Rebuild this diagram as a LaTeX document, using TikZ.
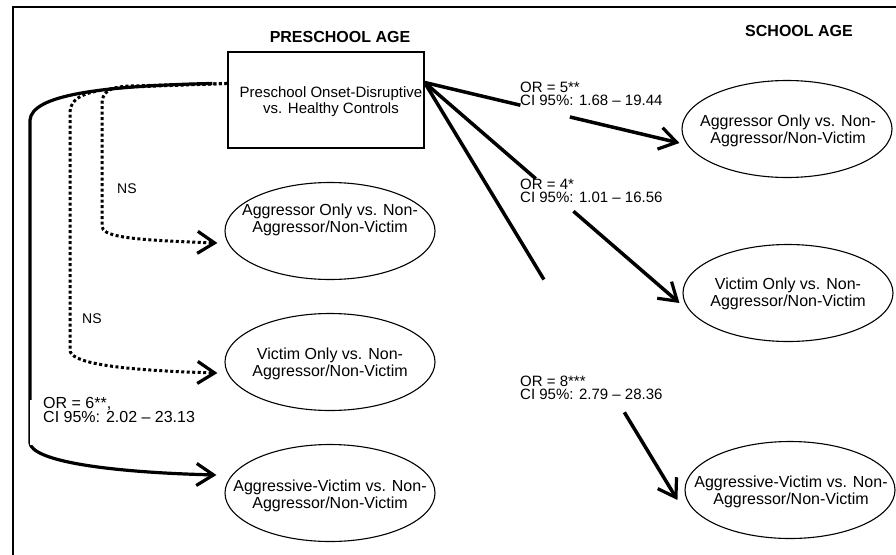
\documentclass[tikz,border=0pt]{standalone}
\usepackage{fontspec}
\setmainfont{Liberation Sans}
\usetikzlibrary{arrows.meta,shapes.geometric,calc}
\begin{document}
\begin{tikzpicture}[x=1pt,y=-1pt,
  ell/.style={draw, ellipse, line width=1.1pt, minimum width=210pt, minimum height=97pt, inner sep=0pt},
  elltext/.style={align=center, font=\fontsize{16}{16.5}\selectfont, inner sep=0pt},
  stat/.style={align=left, anchor=west, inner sep=0pt, font=\fontsize{15}{13}\selectfont},
  tip/.style={-{Straight Barb[length=17pt,width=22pt,line width=3.2pt]}},
  bigline/.style={line width=3.5pt},
  bigarrow/.style={line width=3.5pt, tip},
  dotline/.style={line width=3pt, dash pattern=on 3pt off 2.5pt, tip},
  title/.style={font=\bfseries\fontsize{16}{16}\selectfont, inner sep=0pt},
  nslabel/.style={anchor=west, inner sep=0pt, font=\fontsize{14}{14}\selectfont}
]
\useasboundingbox (0,0) rectangle (896,554);
% frame
\draw[line width=2.8pt, line join=miter] (13,560) -- (13,7) -- (900,7);

% titles
\node[title] (pre) at (340,37) {PRESCHOOL AGE};
\node[title] (sch) at (799,31) {SCHOOL AGE};

% source box
\node[draw, line width=1.1pt, minimum width=196pt, minimum height=96pt, inner sep=0pt] (box) at (326,100) {};
\node[align=center, inner sep=0pt, font=\fontsize{15}{16}\selectfont] (boxt) at (331,102)
      {Preschool Onset-Disruptive\\vs. Healthy Controls};

% preschool ellipses
\node[ell] (L1) at (330,231) {};
\node[elltext] (L1t) at (330,220) {Aggressor Only vs. Non-\\Aggressor/Non-Victim};
\node[ell] (L2) at (330,362) {};
\node[elltext] (L2t) at (330,364) {Victim Only vs. Non-\\Aggressor/Non-Victim};
\node[ell] (L3) at (330,493) {};
\node[elltext] (L3t) at (330,496) {Aggressive-Victim vs. Non-\\Aggressor/Non-Victim};

% school-age ellipses
\node[ell] (R1) at (787,129) {};
\node[elltext] (R1t) at (788,131) {Aggressor Only vs. Non-\\Aggressor/Non-Victim};
\node[ell] (R2) at (788,293) {};
\node[elltext] (R2t) at (788,294) {Victim Only vs. Non-\\Aggressor/Non-Victim};
\node[ell] (R3) at (790,490) {};
\node[elltext] (R3t) at (791,492) {Aggressive-Victim vs. Non-\\Aggressor/Non-Victim};

% coordinates
\coordinate (o) at ($(box.north east)+(0,31)$);
\coordinate (lo) at ($(box.north west)+(0,32)$);
\coordinate (ls) at ($(lo)+(-15,0)$);
\coordinate (t1) at ($(R1.west)+(-2,14)$);
\coordinate (t2) at ($(R2.west)+(-3,10)$);
\coordinate (t3) at ($(R3.west)+(-7,10)$);
\coordinate (a1) at ($(o)!0.376!(t1)$);
\coordinate (b1) at ($(o)!0.57!(t1)$);
\coordinate (a2) at ($(o)!0.436!(t2)$);
\coordinate (b2) at ($(o)!0.584!(t2)$);
\coordinate (a3) at ($(o)!0.472!(t3)$);
\coordinate (b3) at ($(o)!0.79!(t3)$);
\coordinate (tA) at ($(L1.west)+(-7,12)$);
\coordinate (tB) at ($(L2.west)+(-7,11)$);
\coordinate (tC) at ($(L3.west)+(-8,-18)$);

% right connectors
\draw[bigline] (o) -- (a1);
\draw[bigarrow] (b1) -- (t1);
\draw[bigline] (o) -- (a2);
\draw[bigarrow] (b2) -- (t2);
\draw[bigline] (o) -- (a3);
\draw[bigarrow] (b3) -- (t3);

% right labels
\node[stat] (s1) at (520,94) {OR = 5**\\CI 95\%: 1.68 – 19.44};
\node[stat] (s2) at (520,191) {OR = 4*\\CI 95\%: 1.01 – 16.56};
\node[stat] (s3) at (520,388) {OR = 8***\\CI 95\%: 2.79 – 28.36};

% left connectors
\draw[dotline] (lo) -- (130,86) .. controls (108,87) and (102,92) .. (102,105)
   -- (102,226) .. controls (102,236) and (125,240) .. (tA);
\draw[dotline] (lo) -- (130,87) .. controls (90,90) and (71,95) .. (70,112)
   -- (70,350) .. controls (70,362) and (110,370) .. (tB);
\draw[bigarrow, line width=3.2pt] (ls) .. controls (100,86) and (32,95) .. (30,120)
   -- (30,443) .. controls (32,460) and (100,472) .. (tC);

% left labels (their white ground thins the line beside them)
\fill[white] (29.7,400) rectangle (42,445);
\node[nslabel] (ns1) at (117,189) {NS};
\node[nslabel] (ns2) at (82,319) {NS};
\node[stat, font=\fontsize{16}{14.5}\selectfont] (s0) at (43,410) {OR = 6**,\\CI 95\%: 2.02 – 23.13};
\end{tikzpicture}
\end{document}
